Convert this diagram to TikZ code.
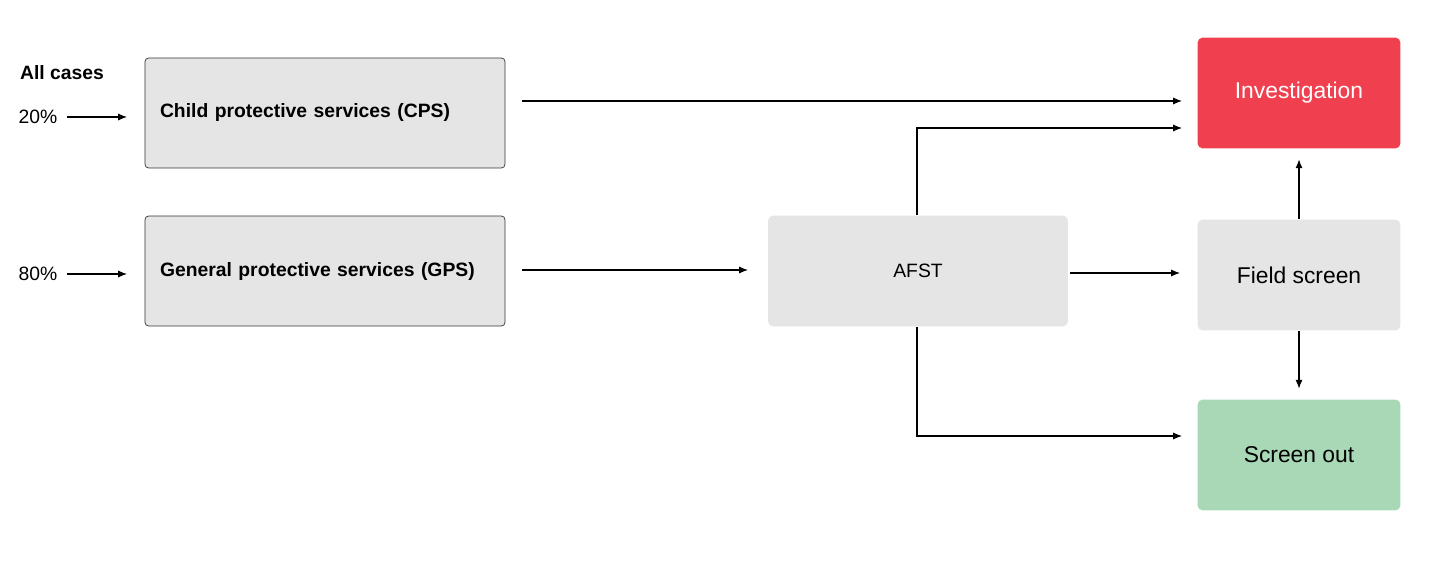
\documentclass[tikz,border=0pt]{standalone}
\usepackage{fontspec}
\setmainfont{Liberation Sans}
\usetikzlibrary{positioning, arrows.meta}
\definecolor{boxgray}{HTML}{E5E5E5}
\definecolor{invred}{HTML}{F0404F}
\definecolor{outgreen}{HTML}{A8D8B5}
\begin{document}
\begin{tikzpicture}[x=0.02cm, y=-0.02cm,
    service/.style={draw=black!80, fill=boxgray, rounded corners=2pt, minimum width=7.2cm, minimum height=2.2cm, text width=6.6cm, inner xsep=0.3cm, align=left, font=\bfseries\fontsize{11}{13}\selectfont},
    stage/.style={fill=boxgray, rounded corners=3pt, minimum width=4.06cm, minimum height=2.22cm, font=\fontsize{13}{15}\selectfont},
    flow/.style={-{Latex[length=5pt,width=4pt]}, semithick}]
    \useasboundingbox (0,0) rectangle (1430,568);
    % sources
    \node[font=\bfseries\fontsize{11}{13}\selectfont] (all) at (62,73) {All cases};
    \node[font=\fontsize{11}{13}\selectfont] (p20) at (38,117) {20\%};
    \node[font=\fontsize{11}{13}\selectfont] (p80) at (38,274) {80\%};
    \node[service] (CPS) at (325,113) {Child protective services (CPS)};
    \node[service] (GPS) at (325,271) {General protective services (GPS)};
    \node[stage, minimum width=6cm, font=\fontsize{11}{13}\selectfont] (AFST) at (918,271) {AFST};
    \node[stage, fill=invred, text=white] (INV) at (1299,93) {Investigation};
    \node[stage] (FS) at (1299,275) {Field screen};
    \node[stage, fill=outgreen] (SO) at (1299,455) {Screen out};
    % bend and end points
    \coordinate (cpsout) at (522,101);
    \coordinate (invin1) at (1182,101);
    \coordinate (invin2) at (1182,128);
    \coordinate (gpsout) at (522,270);
    \coordinate (afstin) at (748,270);
    \coordinate (afstout) at (1070,273);
    \coordinate (fsin) at (1180,273);
    \coordinate (soin) at (1182,436);
    \coordinate (upbend) at (917,128);
    \coordinate (downbend) at (917,436);
    % connectors
    \draw[flow] (67,117) -- (127,117);
    \draw[flow] (67,274) -- (127,274);
    \draw[flow] (cpsout) -- (invin1);
    \draw[flow] (gpsout) -- (afstin);
    \draw[flow] (AFST.north -| upbend) -- (upbend) -- (invin2);
    \draw[flow] (AFST.south -| downbend) -- (downbend) -- (soin);
    \draw[flow] (afstout) -- (fsin);
    \draw[flow] (FS.north) -- ([yshift=-6pt]INV.south);
    \draw[flow] (FS.south) -- ([yshift=6pt]SO.north);
\end{tikzpicture}
\end{document}
